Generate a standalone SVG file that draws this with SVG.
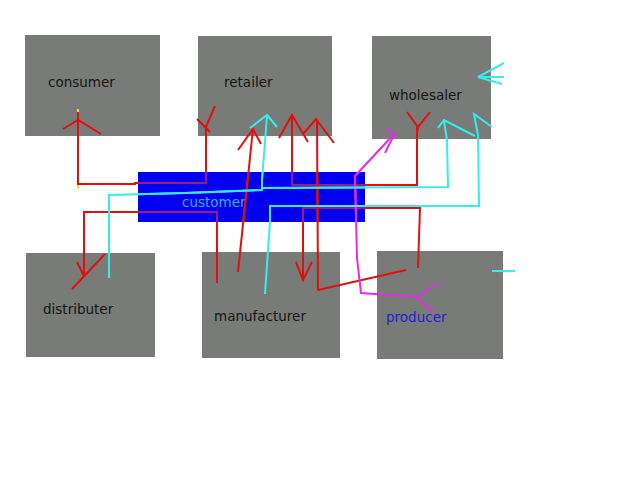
<svg xmlns="http://www.w3.org/2000/svg" width="640" height="480" viewBox="0 0 640 480">
<defs>
<style>
.box{fill:#797b78}
.lbl{font-family:"DejaVu Sans","Liberation Sans",sans-serif;font-size:13.5px;fill:#151515}
.r{fill:none;stroke:#e01010;stroke-width:2;stroke-linejoin:miter}
.rp{fill:none;stroke:#9c1a86;stroke-width:2}
.c{fill:none;stroke:#38ecec;stroke-width:2}
.m{fill:none;stroke:#e030e0;stroke-width:2}
.y{fill:none;stroke:#f0e020;stroke-width:2}
</style>
<clipPath id="cust"><rect x="138" y="172" width="227" height="50"/></clipPath>
</defs>
<rect width="640" height="480" fill="#ffffff"/>
<g id="consumer"><rect class="box" x="25" y="35" width="135" height="101"/><text class="lbl" x="48" y="87">consumer</text></g>
<g id="retailer"><rect class="box" x="198" y="36" width="134" height="100"/><text class="lbl" x="224" y="87">retailer</text></g>
<g id="wholesaler"><rect class="box" x="372" y="36" width="119" height="103"/><text class="lbl" x="389" y="100">wholesaler</text></g>
<g id="customer"><rect x="138" y="172" width="227" height="50" fill="#0000ee"/><text class="lbl" x="182" y="207" style="fill:#3ab0f4">customer</text></g>
<g id="distributer"><rect class="box" x="26" y="253" width="129" height="104"/><text class="lbl" x="43" y="314">distributer</text></g>
<g id="manufacturer"><rect class="box" x="202" y="252" width="138" height="106"/><text class="lbl" x="214" y="321">manufacturer</text></g>
<g id="producer"><rect class="box" x="377" y="251" width="126" height="108"/><text class="lbl" x="386" y="322" style="fill:#2222cc">producer</text></g>
<g id="connectors">
<!-- consumer / retailer -->
<path class="r" d="M78,111 L78,184 L135,184 L135,183 L206,183 L206,126"/>
<path class="r" d="M63,129 L78,120 L101,134"/>
<path class="r" d="M197,119 L210,132 M215,106 L206,127"/>
<path class="y" d="M78,109 L78,112 M78,185 L78,189"/>
<!-- distributer -->
<path class="r" d="M217,283 L217,212 L84,212 L84,276"/>
<path class="r" d="M72,289 L105,254 M77,262 L84,276"/>
<!-- manufacturer to retailer -->
<path class="r" d="M238,272 L253,129"/>
<path class="r" d="M238,150 L253,129 L261,144"/>
<!-- wholesaler to retailer -->
<path class="r" d="M292,115 L292,185 L417,185 L417,127"/>
<path class="r" d="M279,138 L292,115 L308,142"/>
<path class="r" d="M407,112 L418,127 L430,112 M418,127 L417,133"/>
<!-- producer to retailer -->
<path class="r" d="M406,270 L318,290 L317,120"/>
<path class="r" d="M303,134 L316,119 L334,143"/>
<!-- producer to manufacturer -->
<path class="r" d="M418,268 L420,208 L303,208 L303,280"/>
<path class="r" d="M296,262 L303,280 L312,262"/>
<!-- cyan -->
<path class="c" d="M109,278 L109,195 L185,193 L262,190 L262,180 L267,116"/>
<path class="c" d="M250,128 L267,115 L277,127"/>
<path class="c" d="M262,188 L448,187 L447,140 L444,121"/>
<path class="c" d="M438,128 L444,120 L475,136"/>
<path class="c" d="M265,294 L270,222 L270,206 L479,206 L478,135 L474,114 L492,127"/>
<path class="c" d="M504,63 L478,77 L504,77 M478,77 L502,84"/>
<path class="c" d="M492,271 L515,271"/>
<!-- magenta -->
<path class="m" d="M417,297 L361,293 L357,258 L355,176 L395,133"/>
<path class="m" d="M385,153 L395,133 L386,130"/>
<path class="m" d="M439,283 L416,297 L433,312"/>
<!-- red segments seen through the customer band -->
<g clip-path="url(#cust)">
<path class="rp" d="M78,184 L135,184 L135,183 L206,183 L206,126"/>
<path class="rp" d="M217,283 L217,212 L84,212"/>
<path class="rp" d="M292,115 L292,185 L417,185"/>
<path class="rp" d="M420,208 L303,208 L303,280"/>
<path class="r" d="M238,272 L253,129"/>
<path class="r" d="M318,290 L317,120"/>
<path class="m" d="M357,258 L355,176 L395,133"/>
<path class="c" d="M109,195 L185,193 L262,190 L262,180 L267,116"/>
<path class="c" d="M262,188 L448,187"/>
<path class="c" d="M270,222 L270,206 L479,206"/>
</g>
</g>
</svg>
